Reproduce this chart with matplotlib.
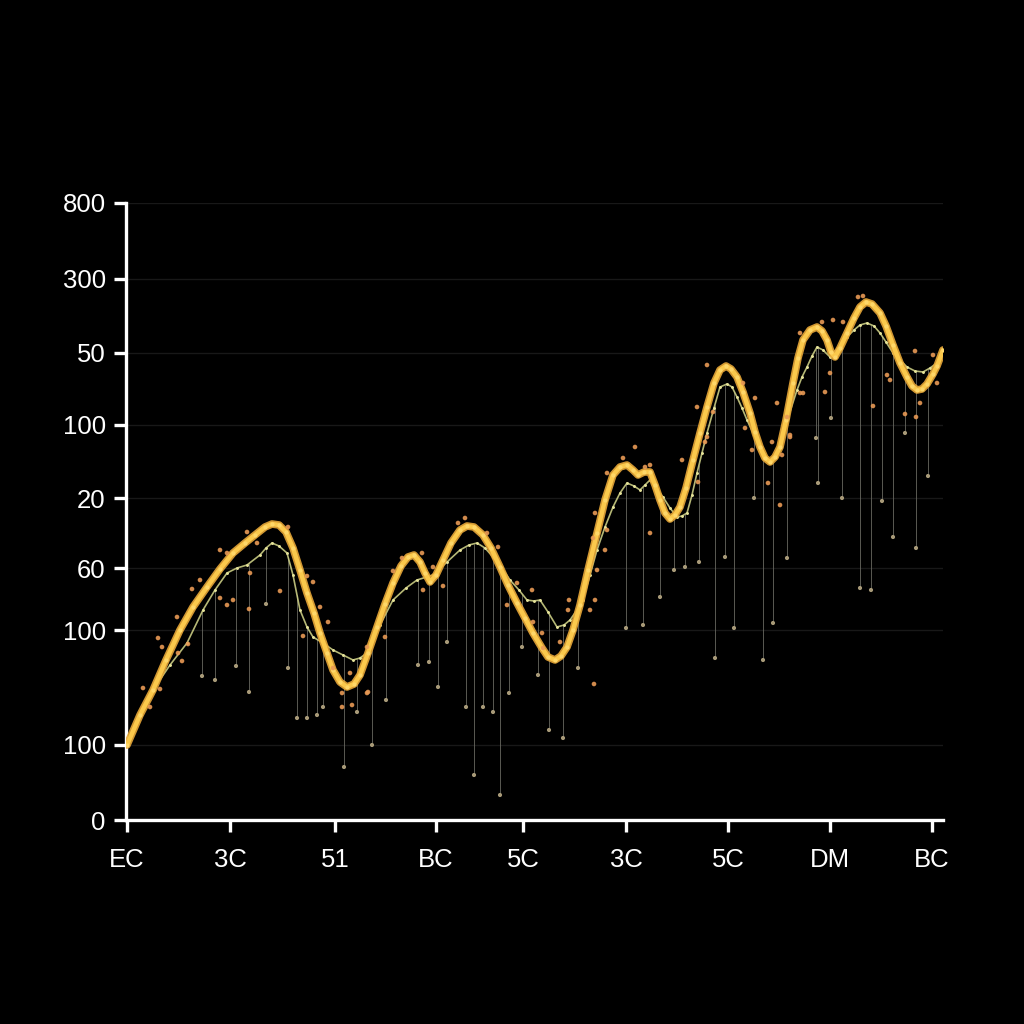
import numpy as np
import matplotlib
matplotlib.use("Agg")
import matplotlib.pyplot as plt

plt.rcParams['font.family'] = ['Liberation Sans', 'DejaVu Sans']

# ---- axis ticks (positions in data units, labels as shown) ----
x_ticks = [1, 104, 209, 310, 397, 500, 602, 704, 806]
x_labels = ["EC", "3C", "51", "BC", "5C", "3C", "5C", "DM", "BC"]
y_ticks = [0, 75, 190, 252, 322, 395, 467, 541, 617]
y_labels = ["0", "100", "100", "60", "20", "100", "50", "300", "800"]

# ---- main (thick) series ----
main_x = [1, 14, 27, 40, 54, 67, 81, 94, 107, 119, 129, 139, 146, 153, 160, 167, 174,
          181, 188, 194, 201, 207, 214, 221, 228, 234, 242, 251, 259, 267, 275, 282,
          288, 294, 299, 304, 310, 317, 325, 334, 341, 348, 357, 365, 374, 382, 391,
          399, 407, 416, 422, 429, 435, 441, 447, 454, 462, 471, 479, 487, 494, 501,
          507, 512, 518, 524, 529, 534, 539, 544, 549, 554, 560, 567, 574, 581, 588,
          594, 600, 605, 611, 617, 624, 629, 634, 639, 644, 649, 654, 660, 667, 672,
          677, 684, 691, 696, 701, 705, 709, 714, 721, 728, 734, 740, 746, 754, 760,
          767, 774, 781, 786, 791, 796, 801, 807, 811, 817]
main_y = [75, 105, 130, 160, 190, 213, 233, 251, 267, 277, 285, 293, 296, 295, 288, 272,
          250, 227, 207, 187, 167, 150, 138, 133, 136, 145, 167, 193, 216, 237, 254,
          263, 265, 258, 247, 238, 245, 260, 277, 290, 294, 293, 285, 272, 253, 235,
          217, 202, 187, 172, 163, 160, 164, 173, 190, 215, 250, 287, 320, 345, 353,
          355, 350, 345, 348, 348, 335, 320, 307, 301, 305, 313, 332, 360, 387, 413,
          437, 450, 454, 451, 443, 428, 407, 388, 373, 362, 358, 363, 373, 400, 437,
          462, 480, 490, 493, 489, 480, 468, 463, 472, 487, 502, 513, 518, 516, 507,
          494, 475, 457, 443, 434, 430, 431, 436, 446, 454, 470]

# ---- secondary (thin) series ----
sec_x = [1, 27, 44, 61, 77, 89, 101, 111, 121, 134, 140, 146, 153, 161, 167, 174, 181,
         187, 197, 207, 217, 227, 234, 241, 254, 267, 280, 291, 307, 321, 334, 343, 351,
         359, 367, 376, 384, 393, 401, 408, 414, 422, 431, 438, 444, 451, 457, 464, 471,
         479, 487, 494, 501, 508, 514, 519, 524, 531, 537, 544, 551, 556, 561, 566, 571,
         576, 581, 588, 594, 601, 606, 611, 616, 621, 628, 634, 644, 654, 662, 671, 676,
         681, 686, 691, 697, 704, 712, 721, 728, 734, 741, 748, 754, 760, 767, 774, 781,
         789, 797, 804, 811, 817]
sec_y = [75, 130, 155, 177, 210, 230, 247, 252, 255, 265, 272, 277, 274, 267, 245, 210,
         193, 183, 177, 170, 165, 160, 162, 167, 195, 220, 232, 240, 245, 258, 270, 275,
         277, 272, 263, 252, 240, 230, 220, 219, 220, 208, 193, 195, 200, 210, 220, 245,
         270, 293, 313, 327, 337, 334, 330, 335, 340, 331, 323, 312, 303, 304, 307, 325,
         347, 367, 387, 412, 433, 436, 433, 423, 412, 400, 385, 373, 358, 373, 402, 430,
         443, 453, 464, 473, 470, 463, 472, 483, 490, 495, 497, 494, 487, 478, 467, 460,
         453, 449, 448, 452, 457, 470]

# ---- drop stems (x, low value) ----
stem_x = [76, 89, 110, 123, 140, 162, 171, 181, 191, 197, 218, 231, 246, 260, 292, 303,
          312, 321, 340, 348, 357, 367, 374, 383, 396, 412, 423, 437, 452, 500, 517,
          534, 548, 559, 573, 589, 599, 608, 628, 637, 647, 661, 690, 692, 705, 716,
          734, 745, 756, 767, 779, 790, 802]
stem_low = [144, 140, 154, 128, 216, 152, 102, 102, 105, 113, 53, 108, 75, 120, 155, 158,
            133, 178, 113, 45, 113, 108, 25, 127, 173, 145, 90, 82, 152, 192, 195,
            223, 250, 253, 258, 162, 263, 192, 322, 160, 197, 262, 382, 337, 402, 322,
            232, 230, 319, 283, 387, 272, 344]

# ---- scattered outlier points ----
dot_x = [121, 94, 101, 74, 66, 94, 107, 101, 124, 123, 154, 162, 131, 51, 32, 36, 52, 56,
         62, 17, 24, 34, 181, 187, 194, 202, 177, 207, 216, 216, 226, 224, 242,
         339, 332, 361, 296, 276, 267, 307, 297, 317, 259, 241, 241, 372, 406, 381, 391,
         407, 416, 417, 434, 442, 443, 464, 469, 471, 468, 481,
         497, 509, 481, 524, 519, 469, 467, 479, 524, 556, 581, 571, 581, 587, 579, 572,
         629, 619, 626, 651, 661, 664, 654, 642, 617, 646,
         732, 737, 707, 717, 699, 747, 704, 789, 807, 811, 779, 790, 794, 764, 761,
         674, 677, 656, 664, 696, 674]
dot_y = [288, 270, 267, 240, 231, 222, 220, 215, 247, 211, 229, 293, 277, 203, 182, 173, 167, 159,
         176, 132, 113, 131, 244, 238, 213, 198, 184, 152, 127, 113, 115, 147, 128,
         302, 297, 287, 267, 262, 249, 253, 230, 234, 183, 173, 127, 273, 230, 215, 237,
         198, 187, 172, 178, 210, 220, 210, 220, 250, 136, 290,
         362, 373, 347, 355, 353, 307, 282, 270, 287, 360, 455, 413, 383, 408, 378, 338,
         422, 392, 370, 417, 403, 385, 315, 337, 437, 378,
         523, 524, 500, 498, 428, 414, 447, 469, 465, 437, 406, 403, 417, 440, 445,
         427, 427, 365, 383, 498, 487]

fig = plt.figure(figsize=(10.24, 10.24), dpi=100, facecolor='black')
ax = fig.add_axes([126 / 1024, 204 / 1024, 817 / 1024, 617 / 1024])
ax.set_facecolor('black')
ax.set_xlim(0, 817)
ax.set_ylim(0, 617)

# faint horizontal gridlines
for yv in y_ticks[1:]:
    ax.axhline(yv, color='#181818', lw=1.0, zorder=0)

# stems
stem_top = np.interp(stem_x, sec_x, sec_y)
ax.vlines(stem_x, stem_low, stem_top, colors='#6a6a62', lw=0.7, alpha=0.85, zorder=1)
ax.scatter(stem_x, stem_low, s=9, color='#a89a78', edgecolors='none', zorder=2)

# secondary line
ax.plot(sec_x, sec_y, color='#d6d88a', lw=1.2, alpha=0.85, zorder=3,
        solid_joinstyle='round', solid_capstyle='round')
ax.plot(sec_x, sec_y, linestyle='none', marker='.', ms=2.2, color='#e6e39a', zorder=3)

# main thick line
ax.plot(main_x, main_y, color='#e8a838', lw=5.5, alpha=0.9, zorder=4,
        solid_joinstyle='round', solid_capstyle='round')
ax.plot(main_x, main_y, color='#fbc94c', lw=3.2, zorder=5,
        solid_joinstyle='round', solid_capstyle='round')
ax.plot(main_x, main_y, linestyle='none', marker='.', ms=4, color='#ffd86a', zorder=6)

# outlier dots
ax.scatter(dot_x, dot_y, s=11, color='#e99a55', edgecolors='none', alpha=0.9, zorder=7)

# axes styling
for side in ['top', 'right']:
    ax.spines[side].set_visible(False)
for side in ['left', 'bottom']:
    ax.spines[side].set_color('white')
    ax.spines[side].set_linewidth(2.4)

ax.set_xticks(x_ticks)
ax.set_xticklabels(x_labels)
ax.set_yticks(y_ticks)
ax.set_yticklabels(y_labels)
ax.tick_params(axis='both', colors='white', width=2.4, length=8.5, direction='out',
               labelsize=18.5)
ax.tick_params(axis='x', pad=12)
ax.tick_params(axis='y', pad=6)

fig.savefig('out.png', dpi=100, facecolor='black')
